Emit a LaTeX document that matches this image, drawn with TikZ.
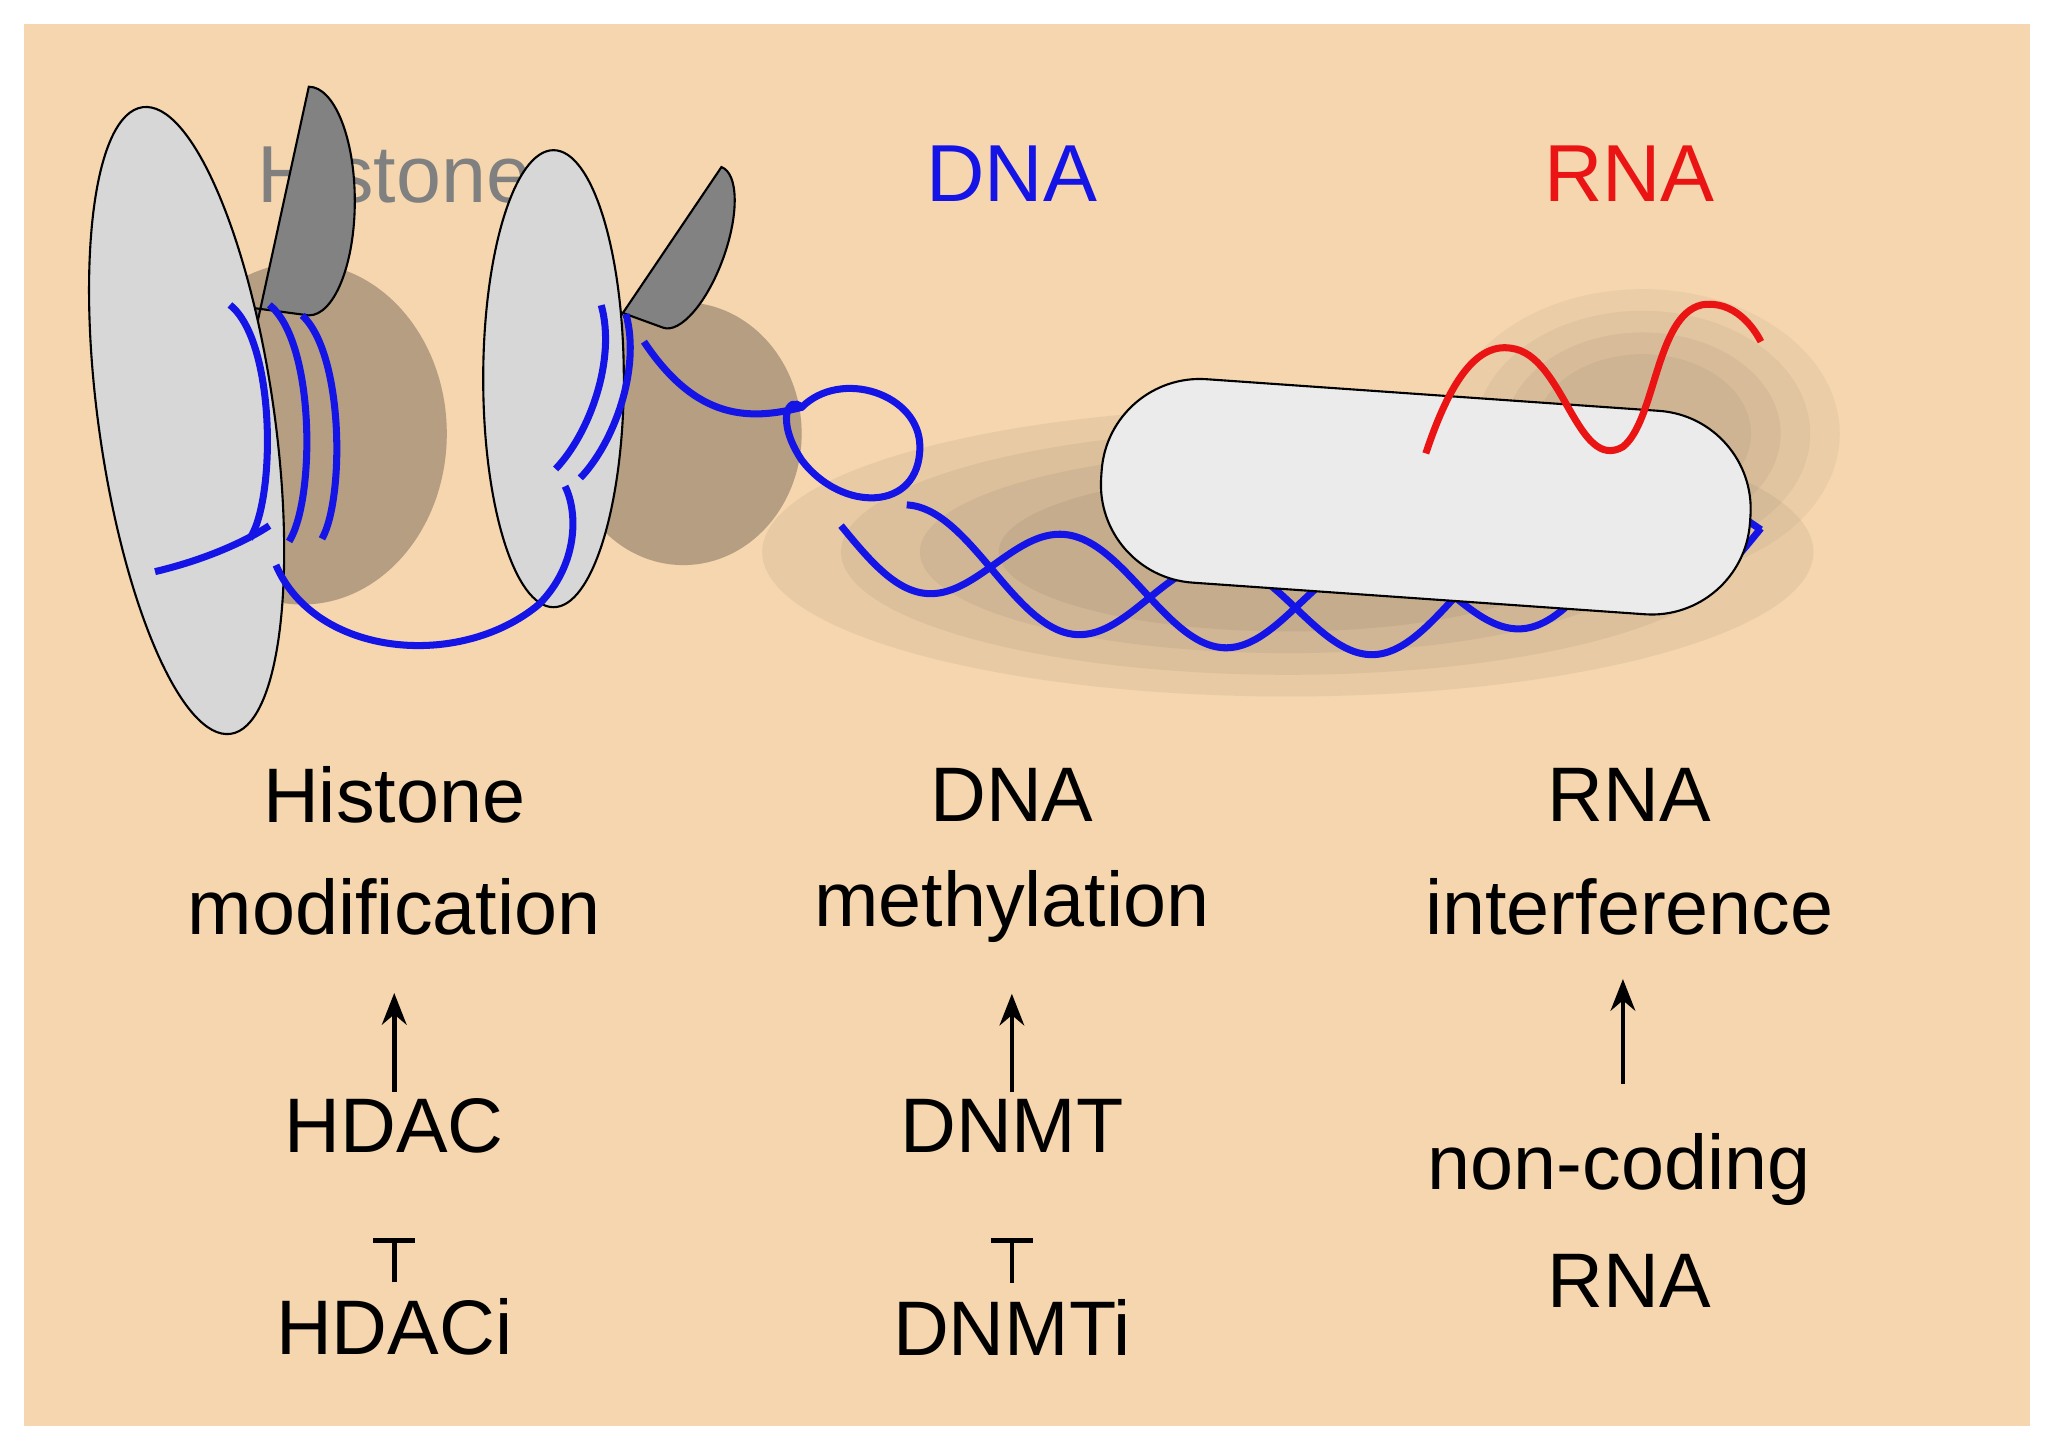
\documentclass[tikz,border=0pt]{standalone}
\usepackage{fontspec}
\setmainfont{Liberation Sans}
\usetikzlibrary{shapes.geometric,arrows.meta,calc}
\begin{document}
\begin{tikzpicture}[x=0.01314cm,y=-0.01314cm,
  lbl/.style={font=\fontsize{22}{24}\selectfont,inner sep=0pt},
  ttl/.style={font=\fontsize{23}{25}\selectfont,inner sep=0pt},
  dna/.style={draw={rgb,255:red,20;green,20;blue,230},line width=2pt},
  rna/.style={draw={rgb,255:red,235;green,20;blue,20},line width=2pt},
  arr/.style={-{Stealth[length=9pt,width=7pt]},line width=1.3pt},
  inh/.style={line width=1.3pt}]
\definecolor{bg}{RGB}{245,214,174}
\definecolor{dgray}{RGB}{130,130,130}
\definecolor{lgray}{RGB}{215,215,215}
\useasboundingbox (0,0) rectangle (1560,1096);
\fill[white] (0,0) rectangle (1560,1096);
\fill[bg] (18,18) rectangle (1545,1085);
% shadow
\foreach \o in {0.05,0.05,0.05,0.06,0.07}{
 \fill[black,opacity=\o] (230,330) ellipse (110 and 130);
 \fill[black,opacity=\o] (520,330) ellipse (90 and 100);
}
\foreach \s in {1,0.85,0.7,0.55}{
 \fill[black,opacity=0.05] (980,420) ellipse ({400*\s} and {110*\s});
 \fill[black,opacity=0.04] (1250,330) ellipse ({150*\s} and {110*\s});
}
% titles
\node[ttl,text=gray] (t1) at (300,132) {Histone};
\node[ttl,text={rgb,255:red,20;green,20;blue,230}] (t2) at (770,132) {DNA};
\node[ttl,text={rgb,255:red,235;green,20;blue,20}] (t3) at (1240,132) {RNA};
% nucleosome 1
\fill[dgray,draw=black,line width=0.6pt] (160,230) -- (235,240) arc[start angle=90,end angle=-90,x radius=35,y radius=87] -- (160,410) -- cycle;
\node[ellipse,draw=black,fill=lgray,minimum width=50,minimum height=180,rotate=8,line width=0.6pt] (n1) at (142,320) {};
\draw[dna] (175,232) .. controls (210,260) and (210,380) .. (190,410);
\draw[dna] (205,232) .. controls (240,260) and (240,380) .. (220,412);
\draw[dna] (230,240) .. controls (262,270) and (262,380) .. (245,410);
% nucleosome 2
\begin{scope}[shift={(440,295)},rotate=-20]
\fill[dgray,draw=black,line width=0.6pt] (-20,-65) -- (45,-65) arc[start angle=90,end angle=-90,x radius=25,y radius=65] -- (-20,65) -- cycle;
\node[ellipse,draw=black,fill=lgray,minimum width=40,minimum height=130,line width=0.6pt] (n2) at (-20,0) {};
\draw[dna] (-5,-65) .. controls (20,-30) and (20,30) .. (5,64);
\draw[dna] (15,-65) .. controls (40,-30) and (40,30) .. (25,64);
\end{scope}
% DNA path
\draw[dna] (118,435) .. controls (160,425) and (190,410) .. (205,400)
  (210,430) .. controls (240,500) and (350,510) .. (410,460)
  .. controls (440,430) and (440,390) .. (430,370);
\draw[dna] (490,260) .. controls (530,320) and (570,320) .. (610,310)
  .. controls (640,280) and (700,300) .. (700,340)
  .. controls (700,390) and (640,390) .. (610,350)
  .. controls (590,320) and (600,300) .. (610,310);
% helix
\draw[dna,domain=640:1340,samples=150,smooth] plot (\x,{400 + 35*sin((\x-640)*1.55) + 60*sin((\x-640)*0.2571)});
\draw[dna,domain=690:1340,samples=150,smooth] plot (\x,{405 - 35*sin((\x-640)*1.55) + 60*sin((\x-640)*0.2571)});
% capsule
\node[draw=black,fill={rgb,255:red,235;green,235;blue,235},rounded corners=28,minimum width=185,minimum height=58,rotate=-4,inner sep=0pt,line width=0.6pt] (cap) at (1085,378) {};
% RNA
\draw[rna] (1085,345) .. controls (1100,300) and (1120,260) .. (1150,265)
  .. controls (1190,270) and (1200,360) .. (1235,340)
  .. controls (1260,320) and (1260,240) .. (1295,232)
  .. controls (1320,228) and (1335,250) .. (1340,260);
% labels
\node[lbl] (h1) at (300,605) {Histone};
\node[lbl] (h2) at (300,690) {modification};
\node[lbl] (h3) at (300,857) {HDAC};
\node[lbl] (h4) at (300,1010) {HDACi};
\node[lbl] (d1) at (770,605) {DNA};
\node[lbl] (d2) at (770,690) {methylation};
\node[lbl] (d3) at (770,857) {DNMT};
\node[lbl] (d4) at (770,1010) {DNMTi};
\node[lbl] (r1) at (1240,605) {RNA};
\node[lbl] (r2) at (1240,690) {interference};
\node[lbl] (r3) at (1232,890) {non-coding};
\node[lbl] (r4) at (1240,975) {RNA};
\draw[arr] ($(h3.north)+(0,-5)$) -- ++(0,-75);
\draw[arr] ($(d3.north)+(0,-5)$) -- ++(0,-75);
\draw[arr] (1235,825) -- (1235,745);
\draw[inh] ($(h4.north)+(0,-12)$) -- ++(0,-32) ++(-16,0) -- ++(32,0);
\draw[inh] ($(d4.north)+(0,-12)$) -- ++(0,-32) ++(-16,0) -- ++(32,0);
\end{tikzpicture}
\end{document}
